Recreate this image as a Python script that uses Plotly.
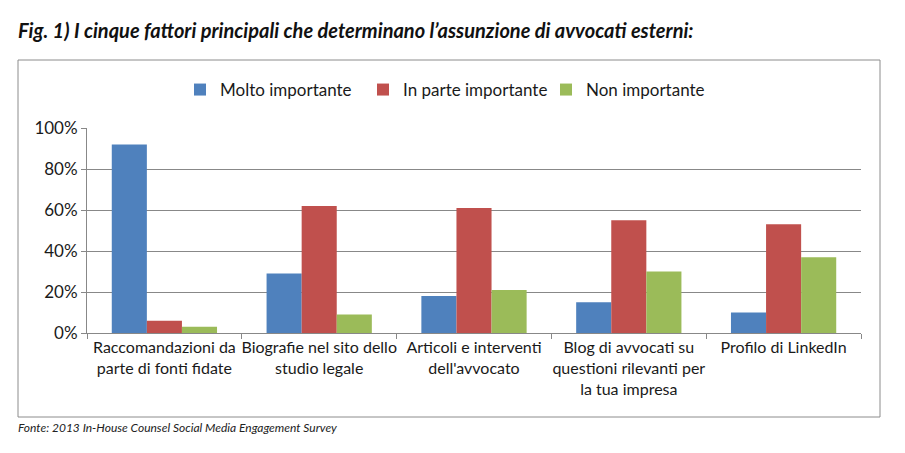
import plotly.graph_objects as go

categories = [
    "Raccomandazioni da<br>parte di fonti fidate",
    "Biografie nel sito dello<br>studio legale",
    "Articoli e interventi<br>dell'avvocato",
    "Blog di avvocati su<br>questioni rilevanti per<br>la tua impresa",
    "Profilo di LinkedIn",
]
molto = [0.92, 0.29, 0.18, 0.15, 0.10]
in_parte = [0.06, 0.62, 0.61, 0.55, 0.53]
non_imp = [0.03, 0.09, 0.21, 0.30, 0.37]
series_names = ["Molto importante", "In parte importante", "Non importante"]
colors = ["#4F81BD", "#C0504D", "#9BBB59"]

W, H = 905, 453
L, R, T, B = 87, 44, 128, 120
pw, ph = W - L - R, H - T - B

def px_x(x):
    return (x - L) / pw

def px_y(y):
    return (H - B - y) / ph

fig = go.Figure()
for name, vals, c in zip(series_names, [molto, in_parte, non_imp], colors):
    fig.add_trace(go.Bar(x=categories, y=vals, name=name, marker=dict(color=c, line=dict(width=0))))

font = "Lato, 'Open Sans', sans-serif"
fig.update_layout(
    width=W, height=H,
    margin=dict(l=L, r=R, t=T, b=B, pad=0, autoexpand=False),
    paper_bgcolor="white", plot_bgcolor="white",
    barmode="group", bargap=0.32, bargroupgap=0,
    font=dict(family=font, size=16, color="#1a1a1a"),
    showlegend=True,
    legend=dict(orientation="h", x=px_x(180), xanchor="left", y=px_y(90), yanchor="middle",
                font=dict(size=17, color="#1a1a1a"), itemwidth=30, traceorder="normal",
                entrywidth=138, entrywidthmode="pixels"),
    xaxis=dict(showline=True, linecolor="#888888", linewidth=1, ticks="outside", tickson="boundaries",
               ticklen=5, tickcolor="#888888", showgrid=False, tickfont=dict(size=16, color="#1a1a1a"),
               tickangle=0, automargin=False, fixedrange=True),
    yaxis=dict(range=[0, 1], tickvals=[0, 0.2, 0.4, 0.6, 0.8, 1.0], tickformat=".0%",
               showline=True, linecolor="#888888", linewidth=1, ticks="outside", ticklen=5,
               tickcolor="#888888", showgrid=True, gridcolor="#888888", gridwidth=1,
               zeroline=False, automargin=False, fixedrange=True,
               tickfont=dict(size=17, color="#1a1a1a")),
)

fig.add_shape(type="rect", xref="paper", yref="paper",
              x0=px_x(18), x1=px_x(880), y0=px_y(417), y1=px_y(60),
              line=dict(color="#8c8c8c", width=1), fillcolor="rgba(0,0,0,0)", layer="below")

fig.add_annotation(xref="paper", yref="paper", x=px_x(16), y=px_y(30), xanchor="left", yanchor="middle",
                   text="<b><i>Fig. 1) I cinque fattori principali che determinano l’assunzione di avvocati esterni:</i></b>",
                   showarrow=False, font=dict(family=font, size=20, color="#111111"))
fig.add_annotation(xref="paper", yref="paper", x=px_x(16), y=px_y(427), xanchor="left", yanchor="middle",
                   text="<i>Fonte: 2013 In-House Counsel Social Media Engagement Survey</i>",
                   showarrow=False, font=dict(family=font, size=12, color="#222222"))

fig.write_html("out.html", config={"displayModeBar": False},
               post_script="document.body.style.margin='0px';")
